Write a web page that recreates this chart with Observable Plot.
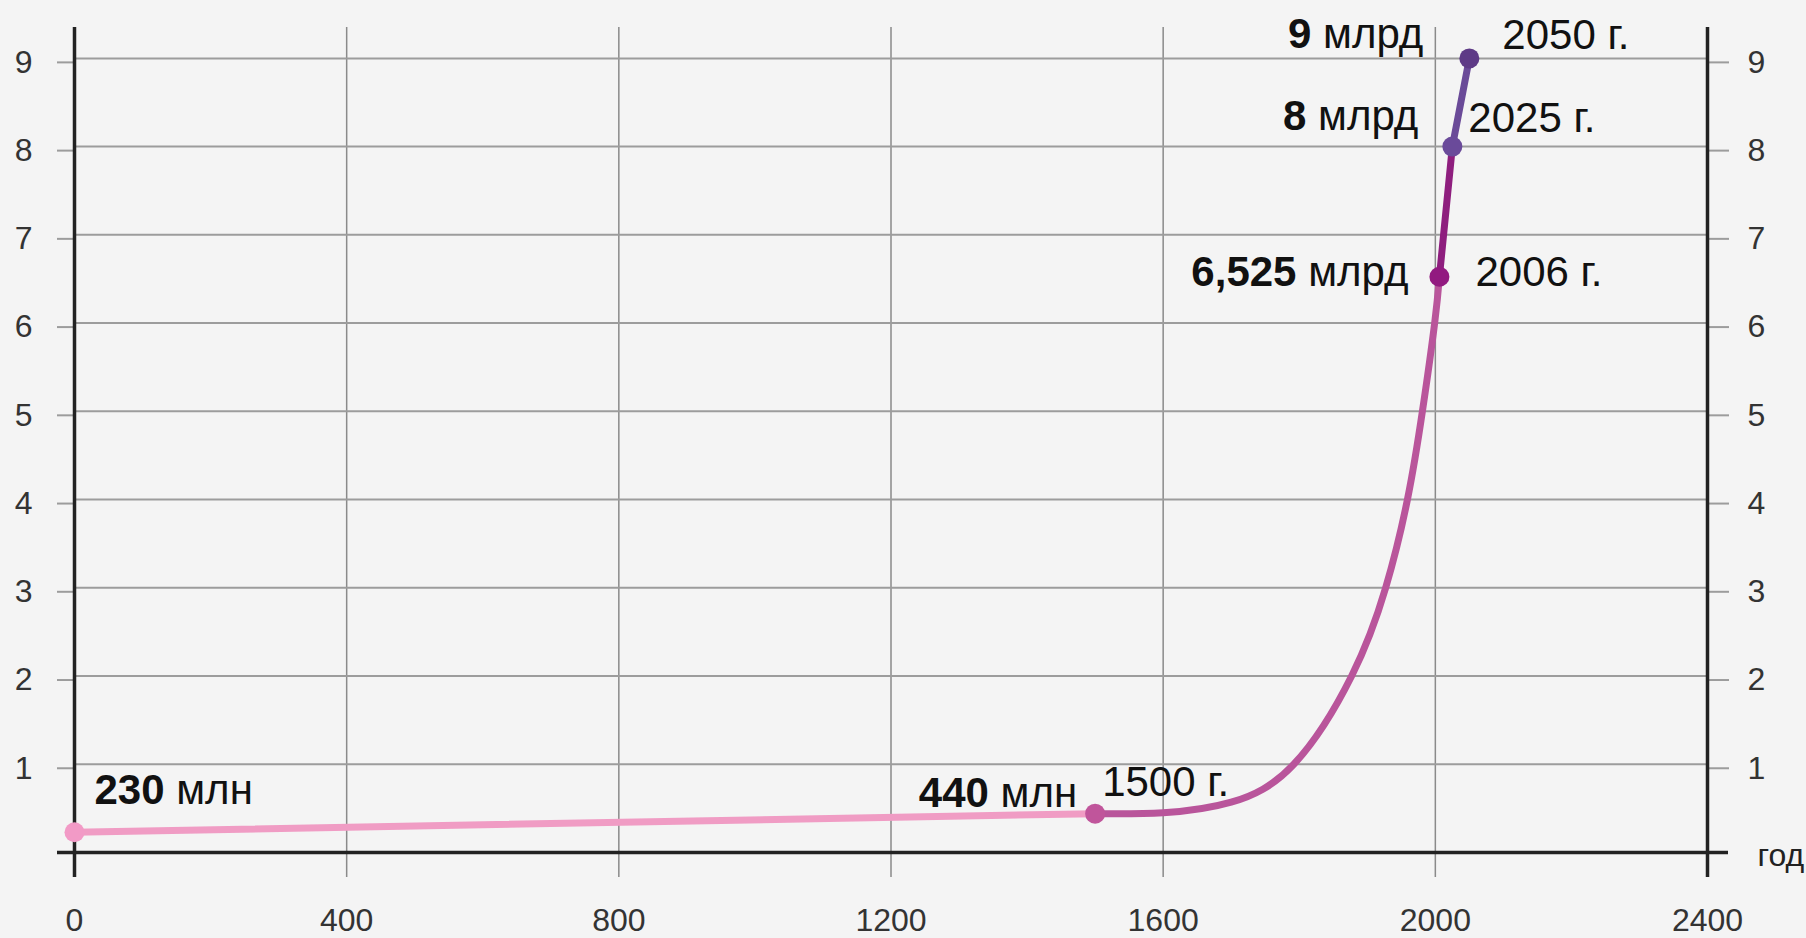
<!DOCTYPE html>
<html>
<head>
<meta charset="utf-8">
<script src="https://cdn.jsdelivr.net/npm/d3@7"></script>
<script src="https://cdn.jsdelivr.net/npm/@observablehq/plot@0.6"></script>
<style>
  html, body { margin: 0; padding: 0; background: #f4f4f4; }
  #chart svg { display: block; }
</style>
</head>
<body>
<div id="chart"></div>
<script>
// ---- data ----
const curveYears  = [0, 1500, 1600, 1700, 1792, 1877, 1927, 1959, 1981, 1999, 2006, 2025, 2050];
const curveValues = [0.23, 0.44, 0.45, 0.57, 1, 2, 3, 4, 5, 6, 6.525, 8, 9];
const segmentStarts = [0, 1500, 2006, 2025];
const segmentEnds   = [1500, 2006, 2025, 2050];
const markerYears  = [0, 1500, 2006, 2025, 2050];
const markerValues = [0.23, 0.44, 6.525, 8, 9];
const valueLabels = ["230 млн", "440 млн", "6,525 млрд", "8 млрд", "9 млрд"];
const yearLabels  = ["", "1500 г.", "2006 г.", "2025 г.", "2050 г."];
const xTicks = [0, 400, 800, 1200, 1600, 2000, 2400];
const yTicks = [1, 2, 3, 4, 5, 6, 7, 8, 9];
const xAxisLabel = "год";

// ---- styles ----
const segmentColors = ["#f09cc4", "#b9559b", "#8e1e7e", "#6a4a98"];
const markerColors  = ["#f29ac6", "#c0559b", "#921a80", "#6a4a9a", "#5e3a86"];
const valueDx = [20, -18, -31, -34, -46];
const valueDy = [-42, -20, -4, -30, -24];
const valueAnchor = ["start", "end", "end", "end", "end"];
const yearDx = [0, 7, 36, 16, 33];
const yearDy = [0, -31, -4, -28, -23];
const FONT = "'Liberation Sans', Arial, Helvetica, sans-serif";
const LABEL_SIZE = 42;

const rows = [];
segmentStarts.forEach((s, k) => {
  curveYears.forEach((yr, i) => {
    if (yr >= s && yr <= segmentEnds[k]) rows.push({year: yr, value: curveValues[i], seg: k});
  });
});

const idx = markerYears.map((_, i) => i);

const valueMarks = idx.map(i => Plot.text([i], {
  x: j => markerYears[j], y: j => markerValues[j], text: j => valueLabels[j],
  dx: valueDx[i], dy: valueDy[i], textAnchor: valueAnchor[i], lineAnchor: "middle",
  fontSize: LABEL_SIZE, fill: "#111"
}));
const yearMarks = idx.filter(i => yearLabels[i]).map(i => Plot.text([i], {
  x: j => markerYears[j], y: j => markerValues[j], text: j => yearLabels[j],
  dx: yearDx[i], dy: yearDy[i], textAnchor: "start", lineAnchor: "middle",
  fontSize: LABEL_SIZE, fill: "#111"
}));

const fmt = d => String(d);

const chart = Plot.plot({
  width: 1806,
  height: 938,
  marginLeft: 74,
  marginRight: 99,
  marginTop: 27,
  marginBottom: 86,
  style: {background: "#f4f4f4", fontFamily: FONT, overflow: "visible"},
  x: {domain: [0, 2400], label: null},
  y: {domain: [0, 9.35], label: null},
  marks: [
    Plot.gridX(xTicks, {stroke: "#8a8a8a", strokeOpacity: 1, strokeWidth: 1.5}),
    Plot.gridY(yTicks, {stroke: "#9c9c9c", strokeOpacity: 1, strokeWidth: 2}),
    Plot.axisX(xTicks, {anchor: "bottom", label: null, tickFormat: fmt, tickSize: 25, tickPadding: 31, fontSize: 32, color: "#333", stroke: "#8a8a8a", strokeWidth: 1.5}),
    Plot.axisY(yTicks, {anchor: "left", label: null, tickFormat: fmt, tickSize: 17, tickPadding: 25, fontSize: 32, color: "#333", stroke: "#9c9c9c", strokeWidth: 2, dy: 4}),
    Plot.axisY(yTicks, {anchor: "right", label: null, tickFormat: fmt, tickSize: 21, tickPadding: 19, fontSize: 32, color: "#333", stroke: "#9c9c9c", strokeWidth: 2, dy: 4}),
    Plot.ruleX([0, 2400], {stroke: "#222", strokeWidth: 3.5, insetBottom: -25}),
    Plot.ruleY([0], {stroke: "#222", strokeWidth: 3.5, insetLeft: -17, insetRight: -21}),
    Plot.text([xAxisLabel], {text: d => d, frameAnchor: "bottom-right", dx: 50, dy: 3, textAnchor: "start", lineAnchor: "middle", fontSize: 32, fill: "#222"}),
    Plot.line(rows, {x: "year", y: "value", z: "seg", stroke: d => segmentColors[d.seg], strokeWidth: 7, curve: "natural", strokeLinecap: "round"}),
    Plot.dot(idx, {x: i => markerYears[i], y: i => markerValues[i], r: 10, fill: i => markerColors[i], stroke: "none"}),
    ...valueMarks,
    ...yearMarks
  ]
});

// bold numeric part of value labels
d3.select(chart).selectAll("text").each(function() {
  const t = this.textContent;
  if (valueLabels.includes(t)) {
    const k = t.indexOf(" ");
    const sel = d3.select(this);
    sel.text(null);
    sel.append("tspan").attr("font-weight", "bold").text(t.slice(0, k));
    sel.append("tspan").text(t.slice(k));
  }
});

document.getElementById("chart").appendChild(chart);
</script>
</body>
</html>
